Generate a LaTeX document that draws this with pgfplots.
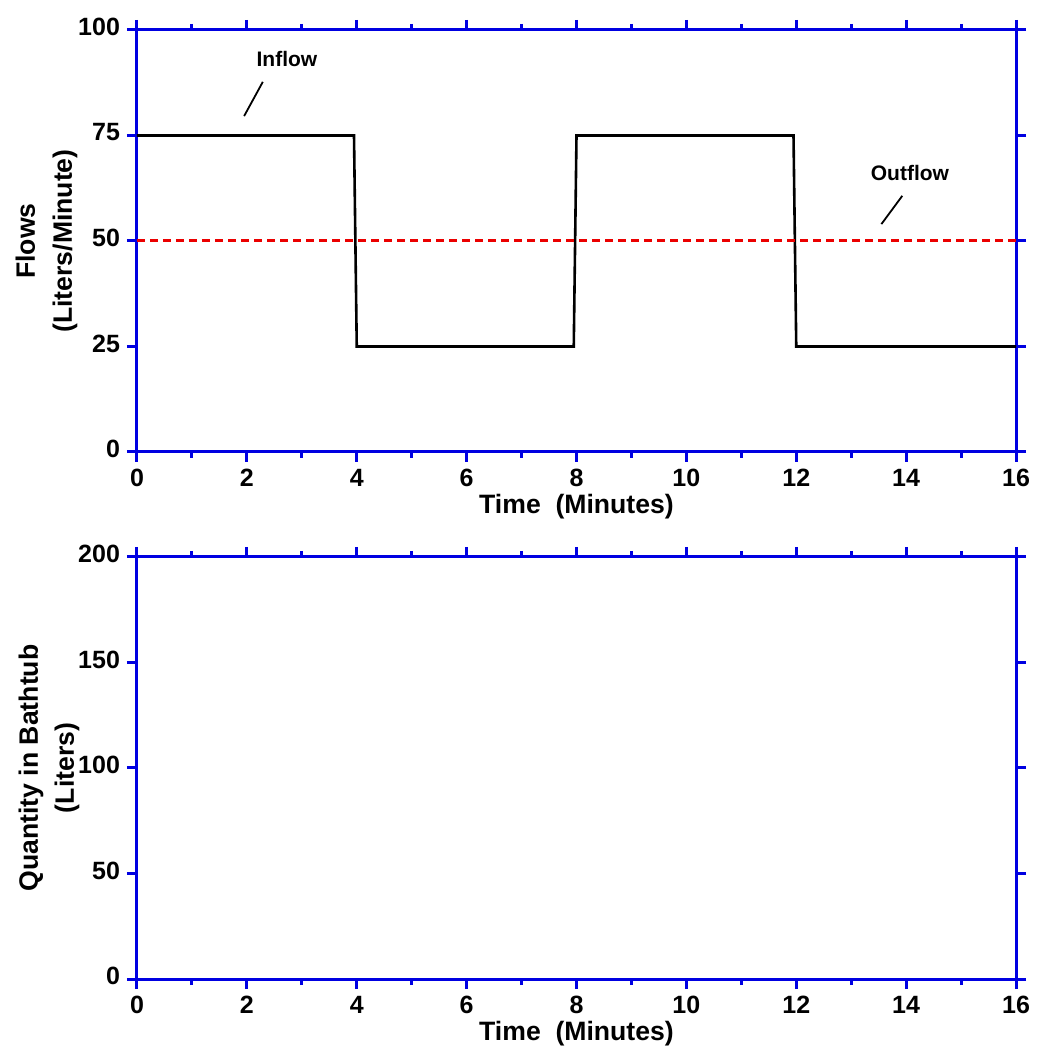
\documentclass[border=0pt]{standalone}
\usepackage{fontspec}
\setmainfont{Liberation Sans}
\usepackage{pgfplots}
\pgfplotsset{compat=1.18}
\definecolor{axisblue}{RGB}{0,0,225}
\definecolor{outred}{RGB}{235,0,0}

\pgfplotsset{
  bathaxis/.style={
    scale only axis, width=439.5pt, height=211pt,
    xmin=0, xmax=16,
    xtick={0,2,...,16}, minor xtick={1,3,...,15},
    axis line style={axisblue, line width=1.5pt},
    tick style={axisblue, line width=1.5pt},
    tick align=outside,
    major tick length=5pt, minor tick length=3pt,
    tick label style={font=\fontsize{12.5}{14}\selectfont\bfseries},
    /pgf/number format/assume math mode=true,
    xlabel={Time\ \ (Minutes)},
    label style={font=\fontsize{13.3}{16}\selectfont\bfseries},
    xlabel style={at={(axis description cs:0.5,0)}, anchor=center, yshift=-27.5pt},
    yticklabel style={yshift=1.5pt},
    clip=false,
  }
}

\begin{document}
\begin{tikzpicture}
\useasboundingbox (-68.5pt,-37pt) rectangle (451pt,489.5pt);

% flows
\begin{axis}[bathaxis, at={(0,263.5pt)}, ymin=0, ymax=100, ytick={0,25,...,100}]
\addplot[black, line width=1.3pt] coordinates {
  (0,75) (3.95,75) (4.0,25) (7.95,25) (8.0,75) (11.95,75) (12.0,25) (16,25)
};
\addplot[outred, line width=1.5pt, dash pattern=on 4pt off 2.5pt] coordinates {
  (0,50) (16,50)
};
\draw[black, line width=0.9pt] (axis cs:1.95,79.6) -- (axis cs:2.29,87.7);
\node[font=\fontsize{10.5}{12}\selectfont\bfseries] at (axis cs:2.73,93.1) {Inflow};
\draw[black, line width=0.9pt] (axis cs:13.55,54.0) -- (axis cs:13.93,60.7);
\node[font=\fontsize{10.5}{12}\selectfont\bfseries] at (axis cs:14.07,66.1) {Outflow};
\node[rotate=90, align=center, font=\fontsize{13.3}{18.5}\selectfont\bfseries]
  at (axis description cs:-0.103,0.5) {Flows\\(Liters/Minute)};
\end{axis}

% stock (left empty)
\begin{axis}[bathaxis, at={(0,0)}, ymin=0, ymax=200, ytick={0,50,...,200}]
\node[rotate=90, align=center, font=\fontsize{13.3}{18}\selectfont\bfseries]
  at (axis description cs:-0.1,0.5) {Quantity in Bathtub\\(Liters)};
\end{axis}
\end{tikzpicture}
\end{document}
